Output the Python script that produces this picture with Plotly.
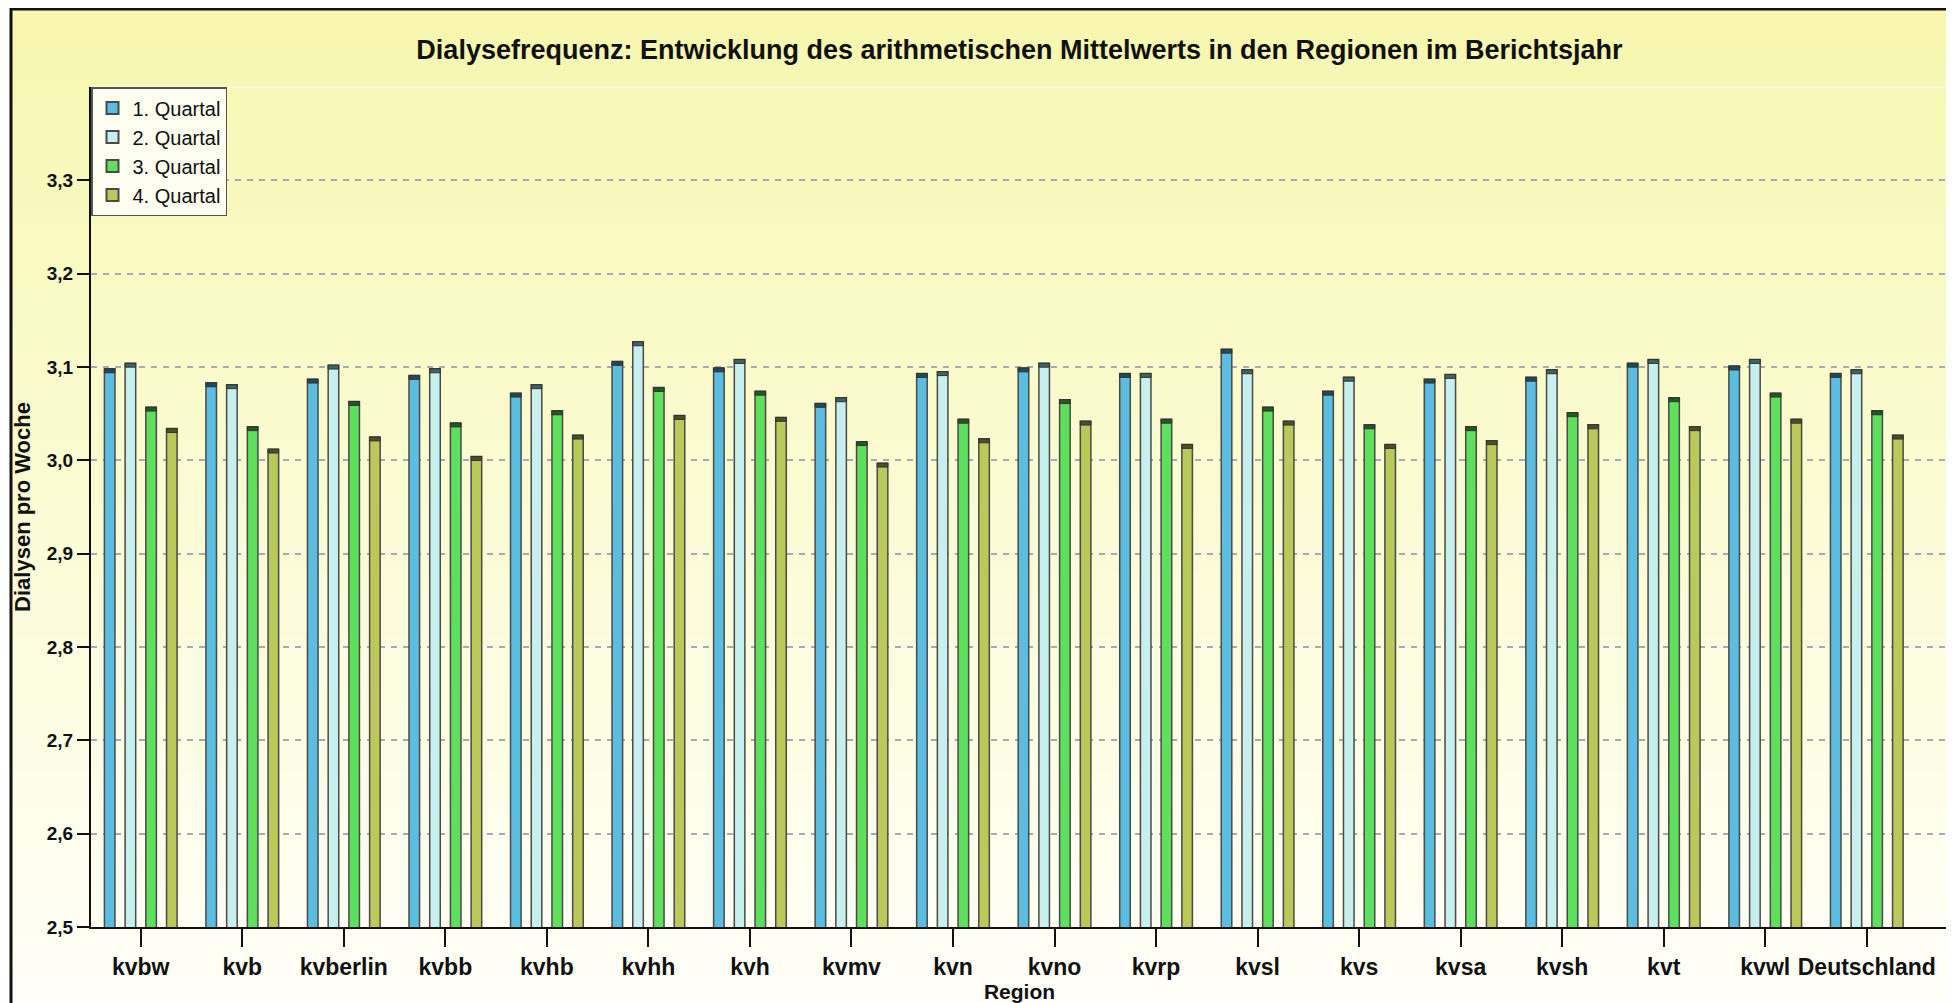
import plotly.graph_objects as go

# ---------------- data ----------------
regions = ["kvbw", "kvb", "kvberlin", "kvbb", "kvhb", "kvhh", "kvh", "kvmv", "kvn",
           "kvno", "kvrp", "kvsl", "kvs", "kvsa", "kvsh", "kvt", "kvwl", "Deutschland"]
series_names = ["1. Quartal", "2. Quartal", "3. Quartal", "4. Quartal"]
q1 = [3.098, 3.083, 3.087, 3.091, 3.072, 3.106, 3.099, 3.061, 3.093,
      3.099, 3.093, 3.119, 3.074, 3.087, 3.089, 3.104, 3.101, 3.093]
q2 = [3.104, 3.081, 3.102, 3.098, 3.081, 3.127, 3.108, 3.067, 3.095,
      3.104, 3.093, 3.097, 3.089, 3.092, 3.097, 3.108, 3.108, 3.097]
q3 = [3.057, 3.036, 3.063, 3.040, 3.053, 3.078, 3.074, 3.020, 3.044,
      3.065, 3.044, 3.057, 3.038, 3.036, 3.051, 3.067, 3.072, 3.053]
q4 = [3.034, 3.012, 3.025, 3.004, 3.027, 3.048, 3.046, 2.997, 3.023,
      3.042, 3.017, 3.042, 3.017, 3.021, 3.038, 3.036, 3.044, 3.027]
y_ticks = [2.5, 2.6, 2.7, 2.8, 2.9, 3.0, 3.1, 3.2, 3.3]

title_text = "Dialysefrequenz: Entwicklung des arithmetischen Mittelwerts in den Regionen im Berichtsjahr"

# ---------------- style ----------------
FONT = "Liberation Sans, Arial, Helvetica, sans-serif"
bar_colors = ["#5bbde0", "#c6efee", "#5fe05c", "#b9c95a"]
cap_colors = ["#1d4a63", "#3e6464", "#1f5c1f", "#4b5220"]
CAP = 0.0042

OFF = 8                       # page body margin
W, H = 1954 - OFF, 1003 - OFF
ML, MR, MT, MB = 91 - OFF, 6, 87 - OFF, 76
PW, PH = W - ML - MR, H - MT - MB


def px_x(p):                  # screen px -> paper x
    return (p - OFF - ML) / PW


def px_y(p):                  # screen px -> paper y
    return (H - MB - (p - OFF)) / PH


fig = go.Figure()
for name, vals, col, capc in zip(series_names, [q1, q2, q3, q4], bar_colors, cap_colors):
    fig.add_trace(go.Bar(
        x=regions, y=vals, name=name, offsetgroup=name,
        marker=dict(color=col, line=dict(color="#4a4a4a", width=1.5)),
    ))
    fig.add_trace(go.Bar(
        x=regions, y=[CAP] * len(vals), base=[v - CAP for v in vals],
        offsetgroup=name, showlegend=False, hoverinfo="skip",
        marker=dict(color=capc, line=dict(color="#333333", width=1)),
    ))

# background gradient bands (paper coords) + frame
shapes = []
top_c = (247, 247, 176)
bot_c = (255, 255, 248)
y_top, y_bot = 8, 1003
n = 60
for i in range(n):
    t = i / (n - 1)
    c = tuple(round(top_c[k] + (bot_c[k] - top_c[k]) * t) for k in range(3))
    a = y_top + (y_bot - y_top) * i / n
    b = y_top + (y_bot - y_top) * (i + 1) / n + 1
    shapes.append(dict(type="rect", xref="paper", yref="paper", layer="below",
                       x0=px_x(11), x1=px_x(1951), y0=px_y(b), y1=px_y(a),
                       fillcolor="rgb(%d,%d,%d)" % c, line=dict(width=0)))
# faint top line of plot area
shapes.append(dict(type="line", xref="paper", yref="paper", layer="below",
                   x0=0, x1=1, y0=1, y1=1, line=dict(color="#fbfbe8", width=1.5)))
# outer frame
shapes.append(dict(type="rect", xref="paper", yref="paper", layer="above",
                   x0=px_x(11), x1=px_x(1951), y0=px_y(1015), y1=px_y(9),
                   fillcolor="rgba(0,0,0,0)", line=dict(color="#111111", width=3)))

fig.update_layout(
    width=W, height=H,
    margin=dict(l=ML, r=MR, t=MT, b=MB, autoexpand=False),
    paper_bgcolor="#ffffff",
    plot_bgcolor="rgba(0,0,0,0)",
    barmode="group", bargap=0.184, bargroupgap=0.49,
    separators=",.",
    font=dict(family=FONT, color="#111111"),
    title=dict(text=title_text, x=0.5, xref="paper", xanchor="center",
               y=1 - (50 - OFF) / H, yref="container", yanchor="middle",
               font=dict(family=FONT, size=27, weight="bold", color="#111111")),
    legend=dict(x=0, y=1, xanchor="left", yanchor="top", xref="paper", yref="paper",
                bgcolor="#fdfdf0", bordercolor="#555555", borderwidth=1.5,
                font=dict(family=FONT, size=20, color="#111111"),
                itemsizing="constant", traceorder="normal"),
    shapes=shapes,
    showlegend=True,
)

fig.update_xaxes(
    type="category", range=[-0.49, 17.8],
    showline=True, linecolor="#111111", linewidth=2,
    ticks="outside", ticklen=18, tickwidth=2, tickcolor="#111111",
    tickfont=dict(family=FONT, size=23, weight="bold", color="#111111"),
    showgrid=False, zeroline=False,
    title=dict(text="Region", standoff=6,
               font=dict(family=FONT, size=21, weight="bold", color="#111111")),
)
fig.update_yaxes(
    range=[2.5, 3.4], tickvals=y_ticks, tickformat=".1f",
    showline=True, linecolor="#111111", linewidth=2,
    ticks="outside", ticklen=12, tickwidth=2, tickcolor="#111111",
    tickfont=dict(family=FONT, size=19, weight="bold", color="#111111"),
    showgrid=True, gridcolor="#a9a9b4", gridwidth=1.5, griddash="6px,6px",
    zeroline=False,
    title=dict(text="Dialysen pro Woche", standoff=10,
               font=dict(family=FONT, size=22, weight="bold", color="#111111")),
)

fig.write_html("out.html")
